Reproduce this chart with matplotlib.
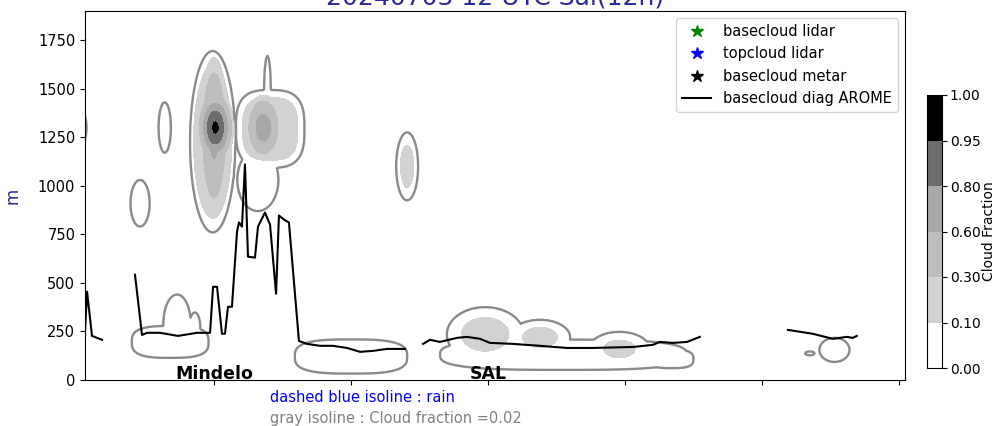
import numpy as np
import matplotlib.pyplot as plt

# cloud cells: centre (x, height m), half sizes of the 0.02 outline,
# peak fraction and shape exponent (2 = ellipse, 3 = flatter)
cloud_x = [4, 64, 46, 99, 100, 101, 141, 132, 136, 139, 241, 68, 73, 86, 200, 355, 298, 338, 396, 434, 553, 535]
cloud_z = [1300, 1300, 910, 1227, 1260, 1300, 1293, 1030, 1300, 1480, 1100, 196, 290, 270, 121, 130, 235, 220, 160, 108, 155, 137]
cloud_rx = [3, 4.5, 7, 16.5, 11, 14, 25, 15, 13.8, 2.5, 8, 28, 10, 4, 41, 90, 28, 22, 22, 16, 11, 3.5]
cloud_rz = [70, 130, 120, 467, 430, 200, 200, 160, 178, 190, 175, 82, 150, 78, 88, 78, 140, 90, 88, 47, 62, 10]
cloud_pk = [0.05, 0.05, 0.05, 0.3, 0.65, 0.97, 0.25, 0.05, 0.7, 0.05, 0.15, 0.05, 0.05, 0.05, 0.05, 0.05, 0.15, 0.14, 0.13, 0.05, 0.05, 0.05]
cloud_p = [2, 2, 2, 2, 2, 2, 3, 2, 2, 2, 2, 3, 2, 2, 3, 3, 2, 2, 2, 3, 2, 2]

# basecloud diag AROME (nan = no cloud base)
base_x = [5.8, 7.3, 10.9, 18.2, np.nan,
          42.3, 47.4, 51.1, 60.6, 73.7, 87.6, 97.1, 99.3, 102.2, 105.8, 108, 110.2, 113.1,
          116.8, 118.2, 120.4, 122.6, 124.8, 129.9, 132.1, 137.2, 140.9, 145.3, 147.4, 151.1,
          154.7, 162, 167.9, 177.4, 186.9, 197.1, 206.6, 216.1, 226.3, 239.4, np.nan,
          252.6, 257.7, 265, 277.4, 284.7, 294.2, 301.5, 318.2, 338, 357.7, 376.6, 405.8,
          420.4, 425.5, 435, 445.3, 454.7, np.nan,
          519, 537.2, 551.8, 562, 566.4, 569.3]
base_z = [248, 455, 227, 207, np.nan,
          542, 232, 243, 243, 227, 243, 243, 480, 480, 238, 238, 377, 377,
          764, 811, 790, 1110, 635, 630, 790, 862, 800, 444, 847, 826,
          811, 201, 186, 176, 176, 165, 145, 150, 160, 160, np.nan,
          186, 207, 196, 217, 222, 212, 191, 186, 176, 165, 165, 170,
          181, 196, 191, 196, 222, np.nan,
          258, 238, 212, 222, 217, 227]

levels = [0, 0.1, 0.3, 0.6, 0.8, 0.95, 1.0]
fill_colors = ['white', '#d2d2d2', '#bdbdbd', '#a8a8a8', '#6c6c6c', '#000000']
sites = ['Mindelo', 'SAL']
site_x = [100, 300]

xg = np.arange(5, 607, 1.0)
zg = np.arange(0, 1905, 5.0)
X, Z = np.meshgrid(xg, zg)
cf = np.zeros_like(X)
for xc, zc, rx, rz, pk, p in zip(cloud_x, cloud_z, cloud_rx, cloud_rz, cloud_pk, cloud_p):
    r2 = (np.abs((X - xc) / rx) ** p + np.abs((Z - zc) / rz) ** p) ** (2.0 / p)
    cf = np.maximum(cf, 0.02 + (pk - 0.02) * (1 - r2))
cf = np.clip(cf, 0, 1)

fig = plt.figure(figsize=(9.99, 4.26), dpi=100)
ax = fig.add_axes([85 / 999, 46 / 426, 820 / 999, 369 / 426])

cs = ax.contourf(X, Z, cf, levels=levels, colors=fill_colors)
ax.contour(X, Z, cf, levels=[0.02], colors='#8a8a8a', linewidths=1.7)
ax.plot(base_x, base_z, color='black', lw=1.5, label='basecloud diag AROME')

# empty series, only for the legend
ax.plot([], [], '*', color='green', ms=9, label='basecloud lidar')
ax.plot([], [], '*', color='blue', ms=9, label='topcloud lidar')
ax.plot([], [], '*', color='black', ms=9, label='basecloud metar')
h, l = ax.get_legend_handles_labels()
ax.legend(h[1:] + h[:1], l[1:] + l[:1], loc='upper right', fontsize=10.5)

for s, xs in zip(sites, site_x):
    ax.text(xs, 6, s, ha='center', va='baseline', fontweight='bold', fontsize=12.5)

ax.set_xlim(5.8, 604.5)
ax.set_ylim(0, 1900)
ax.set_xticks([100, 200, 300, 400, 500, 600])
ax.set_xticklabels([])
ax.set_yticks([0, 250, 500, 750, 1000, 1250, 1500, 1750])
ax.tick_params(labelsize=10.5)
ax.set_ylabel('m', color='#2a2a8c', fontsize=12, labelpad=12)

fig.text(0.4955, 1 - 5 / 426, '20240703 12 UTC Sal(12h)', ha='center', va='baseline',
         fontsize=18, color='#2a2a9a')
fig.text(270 / 999, 1 - 397 / 426, 'dashed blue isoline : rain', color='blue',
         fontsize=10.5, va='center')
fig.text(270 / 999, 1 - 418 / 426, 'gray isoline : Cloud fraction =0.02', color='gray',
         fontsize=10.5, va='center')

cax = fig.add_axes([927 / 999, 58 / 426, 15 / 999, 273 / 426])
cb = fig.colorbar(cs, cax=cax, ticks=levels, format='%.2f')
cb.ax.tick_params(labelsize=10, pad=2)
cb.set_label('Cloud Fraction', fontsize=10, labelpad=1)

fig.savefig('out.png', dpi=100)
